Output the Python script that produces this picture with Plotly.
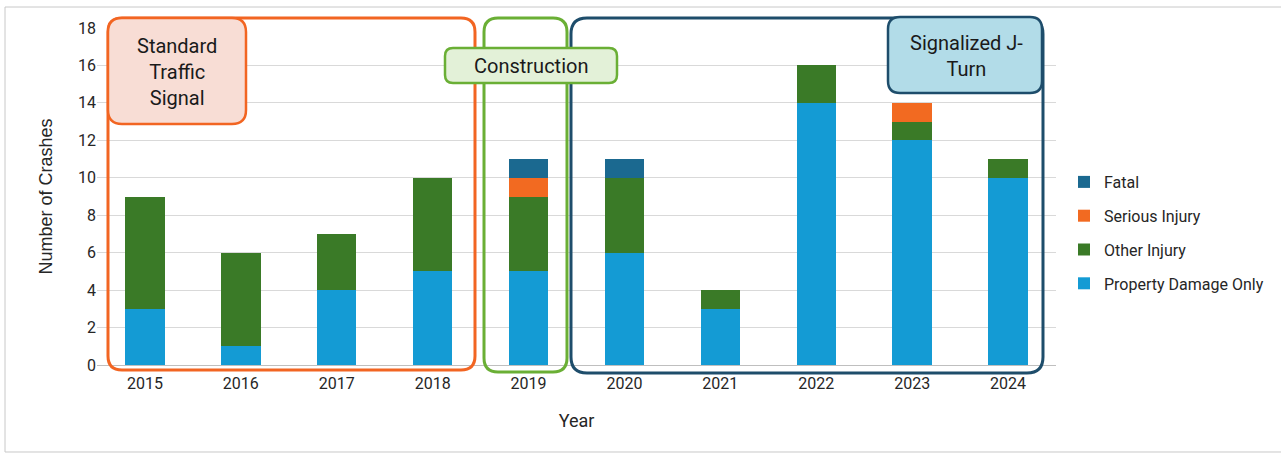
import plotly.graph_objects as go

years = ["2015", "2016", "2017", "2018", "2019", "2020", "2021", "2022", "2023", "2024"]
pdo = [3, 1, 4, 5, 5, 6, 3, 14, 12, 10]
other_injury = [6, 5, 3, 5, 4, 4, 1, 2, 1, 1]
serious_injury = [0, 0, 0, 0, 1, 0, 0, 0, 1, 0]
fatal = [0, 0, 0, 0, 1, 1, 0, 0, 0, 0]

series_names = ["Property Damage Only", "Other Injury", "Serious Injury", "Fatal"]
series_colors = ["#149BD4", "#3A7A27", "#F26A21", "#1B6990"]
legend_ranks = [4, 3, 2, 1]

W, H = 1281, 455
PX0, PX1, PY_BOT, PY_TOP = 97, 1056, 365, 28

def px(x):
    return (x - PX0) / (PX1 - PX0)

def py(y):
    return (PY_BOT - y) / (PY_BOT - PY_TOP)

def rrect(x0, y0, x1, y1, r):
    pts = [
        ("M", [(x0 + r, y0)]), ("L", [(x1 - r, y0)]), ("Q", [(x1, y0), (x1, y0 + r)]),
        ("L", [(x1, y1 - r)]), ("Q", [(x1, y1), (x1 - r, y1)]), ("L", [(x0 + r, y1)]),
        ("Q", [(x0, y1), (x0, y1 - r)]), ("L", [(x0, y0 + r)]), ("Q", [(x0, y0), (x0 + r, y0)]),
    ]
    s = ""
    for cmd, ps in pts:
        s += cmd + " " + " ".join(f"{px(a):.5f},{py(b):.5f}" for a, b in ps) + " "
    return s + "Z"

fig = go.Figure()
for name, vals, col, rk in zip(series_names, [pdo, other_injury, serious_injury, fatal], series_colors, legend_ranks):
    fig.add_trace(go.Bar(x=years, y=vals, name=name, marker=dict(color=col, line=dict(width=0)),
                         legendgroup=name, legendrank=rk))

FONT = "Roboto, Liberation Sans, sans-serif"
TXT = "#262626"

shapes = []
# outer frame
shapes.append(dict(type="path", xref="paper", yref="paper", path=rrect(5, 7, 1290, 452, 0),
                   line=dict(color="#C8C8C8", width=1), layer="below"))
# big boxes
shapes.append(dict(type="path", xref="paper", yref="paper", path=rrect(108, 18, 475, 370, 14),
                   line=dict(color="#F26522", width=3), layer="above"))
shapes.append(dict(type="path", xref="paper", yref="paper", path=rrect(484, 18, 567, 372, 14),
                   line=dict(color="#6AAF35", width=3), layer="above"))
shapes.append(dict(type="path", xref="paper", yref="paper", path=rrect(571, 18, 1043, 373, 16),
                   line=dict(color="#1E4D6B", width=3), layer="above"))
# label boxes
shapes.append(dict(type="path", xref="paper", yref="paper", path=rrect(108, 18, 246, 124, 14),
                   line=dict(color="#F26522", width=2.5), fillcolor="#F8DDD5", layer="above"))
shapes.append(dict(type="path", xref="paper", yref="paper", path=rrect(445, 48, 617, 83, 8),
                   line=dict(color="#6AAF35", width=2.5), fillcolor="#E3F1D8", layer="above"))
shapes.append(dict(type="path", xref="paper", yref="paper", path=rrect(888, 17, 1042, 93, 12),
                   line=dict(color="#1E4D6B", width=2.5), fillcolor="#B2DCE8", layer="above"))

ann_font = dict(family=FONT, size=20, color="#1a1a1a")
annotations = [
    dict(text="Standard<br>Traffic<br>Signal", x=px(177), y=py(72), xref="paper", yref="paper",
         xanchor="center", yanchor="middle", showarrow=False, font=ann_font, align="center"),
    dict(text="Construction", x=px(531), y=py(66), xref="paper", yref="paper",
         xanchor="center", yanchor="middle", showarrow=False, font=ann_font, align="center"),
    dict(text="Signalized J-<br>Turn", x=px(966), y=py(56), xref="paper", yref="paper",
         xanchor="center", yanchor="middle", showarrow=False, font=ann_font, align="center"),
]

fig.update_layout(
    width=W, height=H,
    margin=dict(l=PX0, r=W - PX1, t=PY_TOP, b=H - PY_BOT, autoexpand=False),
    barmode="stack", bargap=0.59,
    plot_bgcolor="white", paper_bgcolor="white",
    shapes=shapes, annotations=annotations,
    legend=dict(x=px(1064), y=py(233), xanchor="left", yanchor="middle",
                traceorder="grouped", tracegroupgap=10,
                font=dict(family=FONT, size=16, color=TXT)),
    xaxis=dict(title=dict(text="Year", font=dict(family=FONT, size=18, color=TXT), standoff=22),
               tickfont=dict(family=FONT, size=16, color=TXT), ticklabelstandoff=4,
               showline=True, linecolor="#BFBFBF", linewidth=1, ticks=""),
    yaxis=dict(title=dict(text="Number of Crashes", font=dict(family="Liberation Sans, Arial", size=18, color=TXT), standoff=20),
               range=[0, 18], dtick=2, tickfont=dict(family=FONT, size=16, color=TXT),
               gridcolor="#D9D9D9", gridwidth=1, zeroline=False, ticks="", ticklen=0),
)

fig.write_html("out.html", config={"displayModeBar": False},
               post_script="document.body.style.margin='0';")
